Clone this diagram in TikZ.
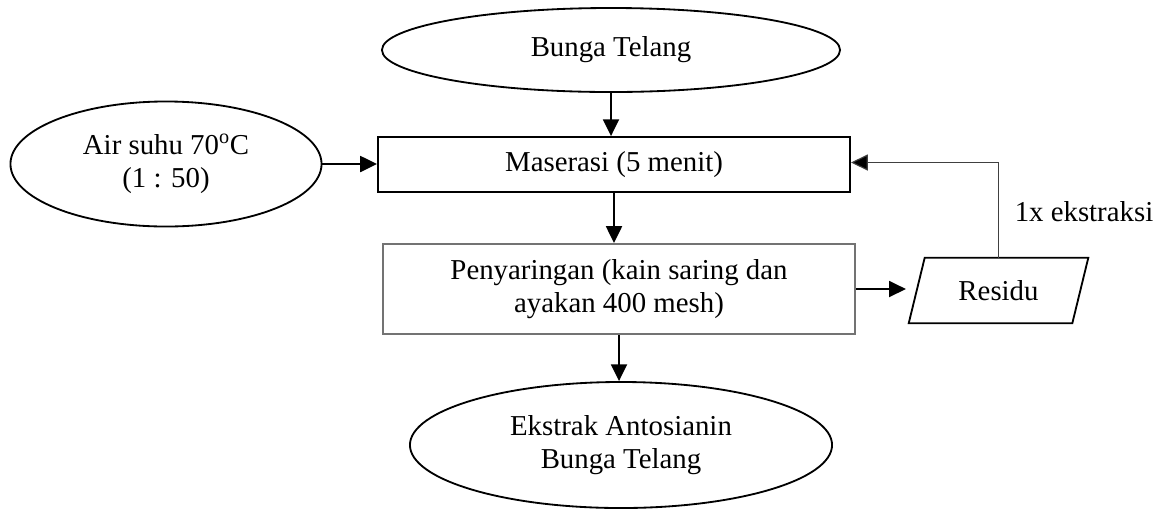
\documentclass[tikz,border=0pt]{standalone}
\usepackage{fontspec}
\setmainfont{Liberation Serif}
\usetikzlibrary{shapes.geometric,arrows.meta,calc}
\begin{document}
\begin{tikzpicture}[x=0.025cm,y=-0.025cm,
  every node/.style={font=\fontsize{20.5}{23.5}\selectfont, inner sep=0pt, align=center},
  oval/.style={ellipse, draw, line width=1.3pt},
  box/.style={rectangle, draw, line width=1.3pt},
  graybox/.style={rectangle, draw=black!55, line width=1.4pt},
  arr/.style={line width=1.3pt, -{Triangle[length=0.42cm,width=0.4cm]}},
  thinarr/.style={line width=0.8pt, draw=black!75, -{Triangle[length=0.42cm,width=0.4cm,fill=black]}}
]
\useasboundingbox (0,0) rectangle (1162,509);
\node[oval, minimum width=11.45cm, minimum height=2.1cm] (bunga) at (611,50) {Bunga Telang};
\node[oval, minimum width=7.775cm, minimum height=3.125cm] (air) at (166,164) {Air suhu 70\textsuperscript{o}C\\(1 : 50)};
\node[box, minimum width=11.8cm, minimum height=1.375cm] (mas) at (614,164.5) {Maserasi (5 menit)};
\node[graybox, minimum width=11.8cm, minimum height=2.25cm] (pen) at (619,289) {Penyaringan (kain saring dan\\ayakan 400 mesh)};
\node[minimum width=4.075cm, minimum height=1.625cm] (res) at (998.5,290.5) {Residu};
\draw[line width=1.3pt] ($(res.north west)+(8,0)$) -- ($(res.north east)+(8,0)$) -- ($(res.south east)+(-8,0)$) -- ($(res.south west)+(-8,0)$) -- cycle;
\node[oval, minimum width=10.55cm, minimum height=3.15cm] (ekstrak) at (621,445) {Ekstrak Antosianin\\Bunga Telang};
\node (lbl) at (1084,212) {1x ekstraksi};
\draw[arr] (bunga.south) -- (bunga.south |- mas.north);
\draw[arr] (air.east) -- (air.east -| mas.west);
\draw[arr] (mas.south) -- (mas.south |- pen.north);
\draw[arr] (pen.south) -- (pen.south |- ekstrak.north);
\draw[arr, shorten >=0.27cm] (pen.east) -- (pen.east -| res.west);
\draw[thinarr] (res.north) |- ([yshift=0.05cm]mas.east);
\end{tikzpicture}
\end{document}
